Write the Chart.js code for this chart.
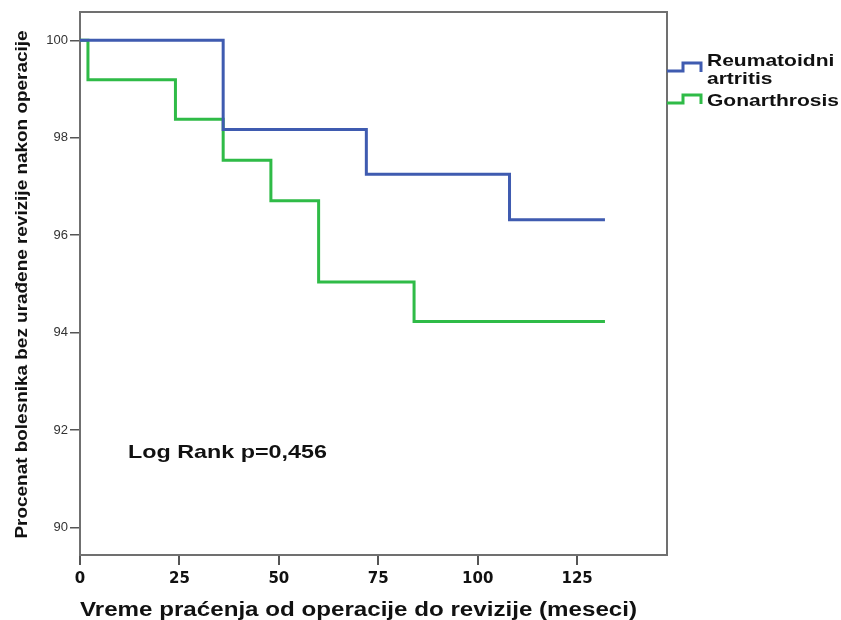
<!DOCTYPE html>
<html>
<head>
<meta charset="utf-8">
<script src="https://cdn.jsdelivr.net/npm/chart.js@4"></script>
<style>
  html, body { margin: 0; padding: 0; background: #fff; }
  #wrap { width: 841px; height: 620px; }
</style>
</head>
<body>
<div id="wrap"><canvas id="kmChart" width="841" height="620"></canvas></div>
<script>
// vremena dogadjaja (meseci) i procenat bez revizije
const raTimes = [0, 36, 72, 108, 132];
const raSurv = [100, 98.17, 97.25, 96.32, 96.32];
const goTimes = [0, 2, 24, 36, 48, 60, 84, 132];
const goSurv = [100, 99.19, 98.38, 97.54, 96.71, 95.04, 94.23, 94.23];

const seriesNames = ["Reumatoidni artritis", "Gonarthrosis"];
const legendLines = [["Reumatoidni", "artritis"], ["Gonarthrosis"]];
const seriesColors = ["#3f5bb0", "#2fbb47"];

const xTicks = [0, 25, 50, 75, 100, 125];
const yTicks = [90, 92, 94, 96, 98, 100];

const xTitle = "Vreme praćenja od operacije do revizije (meseci)";
const yTitle = "Procenat bolesnika bez urađene revizije nakon operacije";
const noteText = "Log Rank p=0,456";

const FONT = "'Liberation Sans', Arial, sans-serif";

function toPoints(xs, ys) {
  return xs.map((x, i) => ({ x: x, y: ys[i] }));
}

// tekst razvucen po sirini (original je horizontalno rastegnut)
function fitText(c, text, x, y, width, font, align) {
  c.save();
  c.font = font;
  const w = c.measureText(text).width;
  const sx = width / w;
  c.translate(x, y);
  c.scale(sx, 1);
  c.textAlign = align || "left";
  c.fillText(text, 0, 0);
  c.restore();
}

// okvir, naslovi osa, legenda i tekst
const extras = {
  id: "extras",
  beforeDatasetsDraw(chart) {
    const { ctx, chartArea: a } = chart;
    ctx.save();
    ctx.strokeStyle = "#707070";
    ctx.lineWidth = 2;
    ctx.strokeRect(a.left, a.top, a.right - a.left, a.bottom - a.top);
    ctx.restore();
  },
  afterDraw(chart) {
    const { ctx, chartArea: a } = chart;
    ctx.save();
    ctx.fillStyle = "#111";
    ctx.textBaseline = "alphabetic";

    // x naslov
    fitText(ctx, xTitle, 80, 616, 557, "bold 20px " + FONT);

    // y naslov
    ctx.save();
    ctx.translate(27, (a.top + a.bottom) / 2 + 1);
    ctx.rotate(-Math.PI / 2);
    fitText(ctx, yTitle, 0, 0, 508, "bold 17px " + FONT, "center");
    ctx.restore();

    // log rank
    fitText(ctx, noteText, 128, 458, 199, "bold 19px " + FONT);

    // legenda
    const baseY = [71, 103];
    const textY = [[66, 84], [106]];
    ctx.font = "bold 17px " + FONT;
    const legScale = 132 / ctx.measureText(legendLines[1][0]).width;
    ctx.lineWidth = 3;
    legendLines.forEach((lines, i) => {
      const y0 = baseY[i];
      const x0 = a.right;
      ctx.strokeStyle = seriesColors[i];
      ctx.beginPath();
      ctx.moveTo(x0, y0);
      ctx.lineTo(x0 + 16, y0);
      ctx.lineTo(x0 + 16, y0 - 8);
      ctx.lineTo(x0 + 34, y0 - 8);
      ctx.lineTo(x0 + 34, y0 + 1);
      ctx.stroke();
      lines.forEach((t, j) => {
        ctx.save();
        ctx.translate(x0 + 40, textY[i][j]);
        ctx.scale(legScale, 1);
        ctx.fillText(t, 0, 0);
        ctx.restore();
      });
    });
    ctx.restore();
  }
};

const ctx = document.getElementById("kmChart");

new Chart(ctx, {
  type: "line",
  data: {
    datasets: [
      {
        label: seriesNames[0],
        data: toPoints(raTimes, raSurv),
        borderColor: seriesColors[0],
        borderWidth: 3,
        stepped: true,
        pointRadius: 0,
        fill: false
      },
      {
        label: seriesNames[1],
        data: toPoints(goTimes, goSurv),
        borderColor: seriesColors[1],
        borderWidth: 3,
        stepped: true,
        pointRadius: 0,
        fill: false
      }
    ]
  },
  options: {
    responsive: false,
    animation: false,
    layout: { padding: { left: 0, top: 12, right: 174, bottom: 0 } },
    plugins: {
      legend: { display: false },
      tooltip: { enabled: false }
    },
    scales: {
      x: {
        type: "linear",
        min: 0,
        max: 147.6,
        afterBuildTicks: (s) => { s.ticks = xTicks.map((v) => ({ value: v })); },
        afterFit: (s) => { s.height = 65; },
        grid: { drawOnChartArea: false, drawTicks: true, tickLength: 10, color: "#555", lineWidth: 2 },
        border: { display: true, color: "#555", width: 2 },
        ticks: {
          color: "#111",
          padding: 5,
          maxRotation: 0,
          font: { family: "'DejaVu Sans', sans-serif", size: 15, weight: "bold" }
        }
      },
      y: {
        min: 89.44,
        max: 100.58,
        afterBuildTicks: (s) => { s.ticks = yTicks.map((v) => ({ value: v })); },
        afterFit: (s) => { s.width = 80; },
        grid: { drawOnChartArea: false, drawTicks: true, tickLength: 10, color: "#555", lineWidth: 1.5 },
        border: { display: true, color: "#555", width: 2 },
        ticks: {
          color: "#333",
          padding: 2,
          font: { family: FONT, size: 13 }
        }
      }
    }
  },
  plugins: [extras]
});
</script>
</body>
</html>
